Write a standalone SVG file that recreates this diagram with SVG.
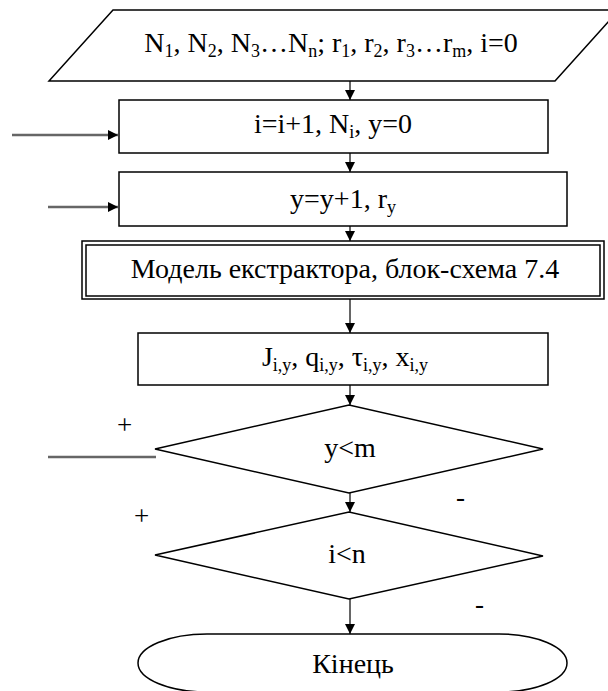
<svg xmlns="http://www.w3.org/2000/svg" width="608" height="691" viewBox="0 0 608 691">
<style>
.sh{fill:#fff;stroke:#000;stroke-width:1.5}
.t{font-family:"Liberation Serif","Times New Roman",serif;font-size:28px;fill:#000;text-anchor:middle}
.s{font-size:18px}
.c{fill:none;stroke:#333;stroke-width:1.5}
.g{fill:none;stroke:#666;stroke-width:2.5}
.l{font-family:"Liberation Serif","Times New Roman",serif;font-size:27px;fill:#000}
</style>
<defs>
<marker id="a" viewBox="0 0 10 10" refX="10" refY="5" markerWidth="10" markerHeight="10" markerUnits="userSpaceOnUse" orient="auto">
<path d="M0,0 L10,5 L0,10 Z" fill="#000"/>
</marker>
</defs>
<g id="connectors">
<line class="c" x1="350" y1="81" x2="350" y2="100" marker-end="url(#a)"/>
<line class="c" x1="350" y1="153" x2="350" y2="172" marker-end="url(#a)"/>
<line class="c" x1="350" y1="226" x2="350" y2="241" marker-end="url(#a)"/>
<line class="c" x1="350" y1="299" x2="350" y2="333" marker-end="url(#a)"/>
<line class="c" x1="350" y1="385" x2="350" y2="405" marker-end="url(#a)"/>
<line class="c" x1="350" y1="493" x2="350" y2="512" marker-end="url(#a)"/>
<line class="c" x1="350" y1="599" x2="350" y2="634" marker-end="url(#a)"/>
<line class="g" x1="12" y1="135" x2="118" y2="135" marker-end="url(#a)"/>
<line class="g" x1="48" y1="207" x2="118" y2="207" marker-end="url(#a)"/>
<line class="g" x1="48" y1="457" x2="156" y2="457"/>
<text class="l" x="117" y="434">+</text>
<text class="l" x="134" y="525">+</text>
<text class="l" x="456" y="506">-</text>
<text class="l" x="475" y="613">-</text>
</g>
<g id="input">
<polygon class="sh" points="113,10 619,10 555,81 49,81"/>
<text class="t" x="331" y="52">N<tspan class="s" dy="5">1</tspan><tspan dy="-5">, N</tspan><tspan class="s" dy="5">2</tspan><tspan dy="-5">, N</tspan><tspan class="s" dy="5">3</tspan><tspan dy="-5">…N</tspan><tspan class="s" dy="5">n</tspan><tspan dy="-5">; r</tspan><tspan class="s" dy="5">1</tspan><tspan dy="-5">, r</tspan><tspan class="s" dy="5">2</tspan><tspan dy="-5">, r</tspan><tspan class="s" dy="5">3</tspan><tspan dy="-5">…r</tspan><tspan class="s" dy="5">m</tspan><tspan dy="-5">, i=0</tspan></text>
</g>
<g id="step1">
<rect class="sh" x="119" y="100" width="429" height="53"/>
<text class="t" x="333" y="133">i=i+1, N<tspan class="s" dy="5">i</tspan><tspan dy="-5">, y=0</tspan></text>
</g>
<g id="step2">
<rect class="sh" x="119" y="172" width="448" height="54"/>
<text class="t" x="343" y="208">y=y+1, r<tspan class="s" dy="5">y</tspan></text>
</g>
<g id="model">
<rect class="sh" x="82" y="241" width="522" height="58"/>
<rect class="sh" x="86" y="245" width="514" height="51"/>
<text class="t" x="345" y="278">Модель екстрактора, блок-схема 7.4</text>
</g>
<g id="results">
<rect class="sh" x="138" y="333" width="410" height="52"/>
<text class="t" x="345" y="366">J<tspan class="s" dy="5">i,y</tspan><tspan dy="-5">, q</tspan><tspan class="s" dy="5">i,y</tspan><tspan dy="-5">, τ</tspan><tspan class="s" dy="5">i,y</tspan><tspan dy="-5">, x</tspan><tspan class="s" dy="5">i,y</tspan></text>
</g>
<g id="cond1">
<polygon class="sh" points="155,449 349,405 543,449 349,493"/>
<text class="t" x="350" y="457">y&lt;m</text>
</g>
<g id="cond2">
<polygon class="sh" points="155,555 349,512 543,556 349,599"/>
<text class="t" x="347" y="563">i&lt;n</text>
</g>
<g id="end">
<path class="sh" d="M207,634 H499 A68,29 0 0 1 499,692 H207 A69,29 0 0 1 207,634 Z"/>
<text class="t" x="353" y="673">Кінець</text>
</g>
</svg>
